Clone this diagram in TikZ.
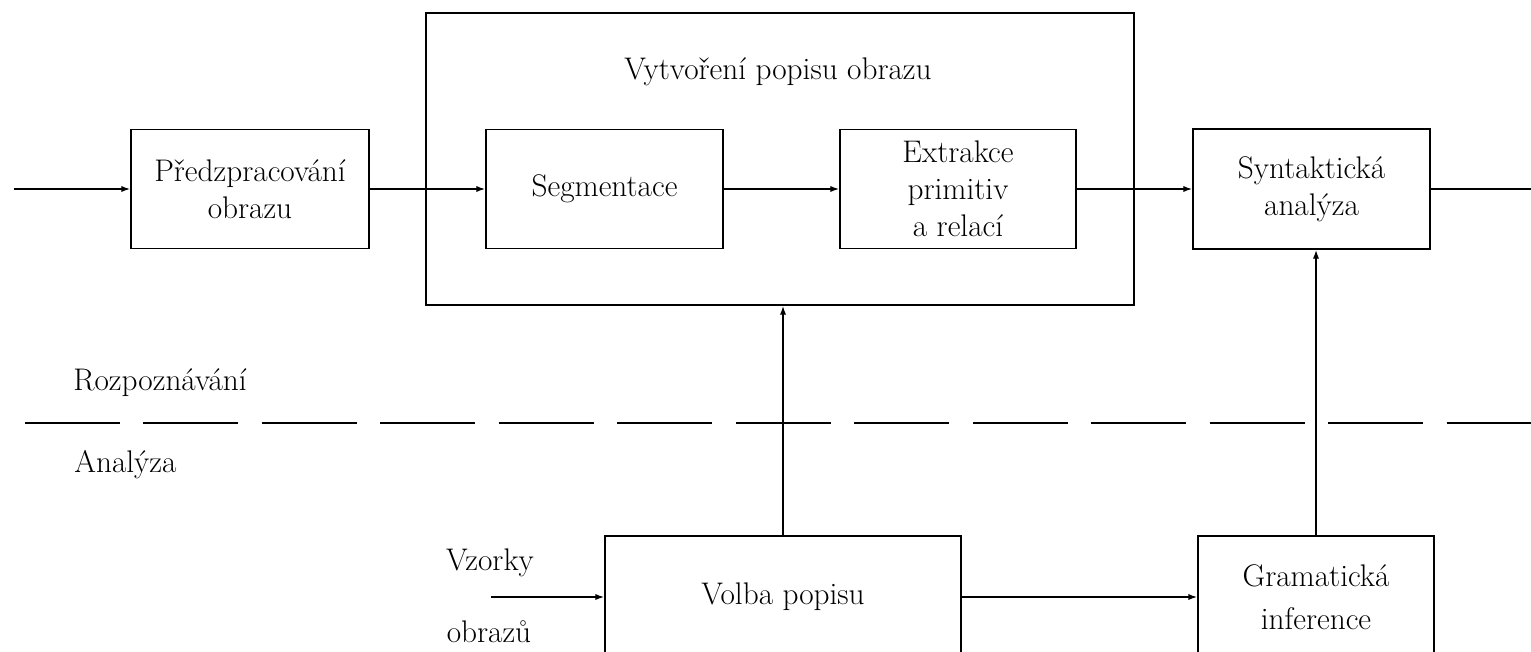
\documentclass[tikz,border=0pt]{standalone}
\usepackage{fontspec}
\usetikzlibrary{arrows.meta}
\newcommand\boxfont{\fontsize{17.8}{21}\selectfont}
\begin{document}
\begin{tikzpicture}[x=0.02cm,y=-0.02cm,
  box/.style={draw,line width=1.1pt,inner sep=0pt,align=center,font=\boxfont},
  txt/.style={inner sep=0pt,font=\boxfont},
  flow/.style={line width=0.8pt,-{Latex[length=5pt,width=3.6pt]}},
  plain/.style={line width=0.8pt},
  sep/.style={line width=1.1pt,dash pattern=on 1.9cm off 0.47cm}]
\useasboundingbox (0,0) rectangle (1531,652);
\clip (0,0) rectangle (1531,652);

% description-building block with its two stages
\node[box,minimum width=14.16cm,minimum height=5.84cm] (outer) at (780,159) {};
\node[txt,anchor=base] (title) at (778,80) {Vytvoření popisu obrazu};
\node[box,minimum width=4.74cm,minimum height=2.38cm] (seg) at (604.5,189) {Segmentace};
\node[box,minimum width=4.72cm,minimum height=2.38cm] (ext) at (958,189) {Extrakce\\primitiv\\a relací};

% recognition chain
\node[box,minimum width=4.76cm,minimum height=2.38cm] (pre) at (250,189) {Předzpracování\\obrazu};
\node[box,minimum width=4.74cm,minimum height=2.4cm] (syn) at (1311.5,189) {Syntaktická\\analýza};

% analysis chain
\node[box,minimum width=7.12cm,minimum height=2.44cm] (vol) at (783,597) {Volba popisu};
\node[box,minimum width=4.72cm,minimum height=2.44cm] (gram) at (1316,597) {Gramatická\\[0.12cm]inference};

% side labels and the boundary between the two phases
\node[txt,anchor=base west] (rec) at (73,390) {Rozpoznávání};
\node[txt,anchor=base west] (ana) at (74,472) {Analýza};
\coordinate (dl) at (25,423);
\coordinate (dr) at (1531,423);
\draw[sep] (dl) -- (dr);

\node[txt,anchor=base] (vz) at (490,570) {Vzorky};
\node[txt,anchor=base] (ob) at (489,642) {obrazů};

% connectors
\coordinate (in) at (14,189);
\coordinate (out) at (1531,189);
\coordinate (smp) at (491,597);
\draw[flow] (in) -- (pre);
\draw[flow] (pre) -- (seg);
\draw[flow] (seg) -- (ext);
\draw[flow] (ext) -- (syn);
\draw[plain] (syn) -- (out);
\draw[flow] (smp) -- (vol);
\draw[flow] (vol) -- (gram);
\draw[flow] (vol.north) -- (vol.north |- outer.south);
\draw[flow] (gram.north) -- (gram.north |- syn.south);
\end{tikzpicture}
\end{document}
